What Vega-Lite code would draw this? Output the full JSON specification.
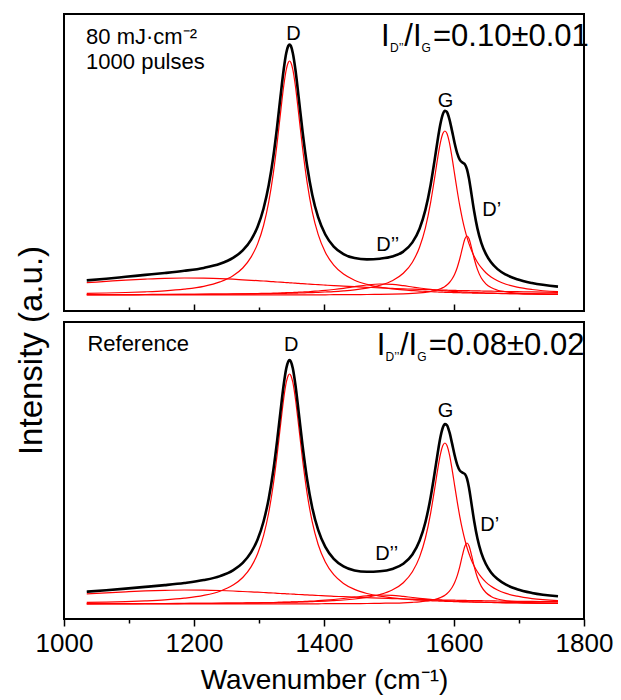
{
"$schema":"https://vega.github.io/schema/vega-lite/v6.json",
"padding":{"left":14,"top":13,"right":0,"bottom":0},
"spacing":11,
"bounds":"flush",
"config":{"font":"Liberation Sans","view":{"stroke":"#000","strokeWidth":2},
"axis":{"grid":false,"labelColor":"#000","titleColor":"#000","tickColor":"#000","titleFontWeight":"normal","labelFont":"Liberation Sans","titleFont":"Liberation Sans"},
"text":{"font":"Liberation Sans","color":"#000"}},
"datasets":{
"s":[
{"p":"a","x":1035,"tot":30.6,"D":17.6,"G":16.3,"Dp":16.0,"Dpp":16.3,"B":28.3},
{"p":"a","x":1065,"tot":32.3,"D":18.0,"G":16.4,"Dp":16.0,"Dpp":16.3,"B":29.6},
{"p":"a","x":1095,"tot":34.2,"D":18.5,"G":16.4,"Dp":16.0,"Dpp":16.4,"B":30.9},
{"p":"a","x":1125,"tot":36.1,"D":19.2,"G":16.5,"Dp":16.1,"Dpp":16.5,"B":31.9},
{"p":"a","x":1155,"tot":38.0,"D":20.2,"G":16.6,"Dp":16.1,"Dpp":16.5,"B":32.7},
{"p":"a","x":1185,"tot":40.2,"D":21.9,"G":16.6,"Dp":16.1,"Dpp":16.6,"B":33.0},
{"p":"a","x":1215,"tot":43.1,"D":24.7,"G":16.7,"Dp":16.1,"Dpp":16.8,"B":32.8},
{"p":"a","x":1240,"tot":47.2,"D":29.1,"G":16.9,"Dp":16.1,"Dpp":16.9,"B":32.4},
{"p":"a","x":1260,"tot":53.1,"D":35.2,"G":17.0,"Dp":16.1,"Dpp":17.1,"B":31.8},
{"p":"a","x":1275,"tot":60.6,"D":43.0,"G":17.1,"Dp":16.1,"Dpp":17.2,"B":31.2},
{"p":"a","x":1288,"tot":71.4,"D":54.1,"G":17.2,"Dp":16.1,"Dpp":17.3,"B":30.7},
{"p":"a","x":1298,"tot":84.5,"D":67.4,"G":17.2,"Dp":16.1,"Dpp":17.5,"B":30.3},
{"p":"a","x":1307,"tot":102.5,"D":85.5,"G":17.3,"Dp":16.1,"Dpp":17.6,"B":30.0},
{"p":"a","x":1315,"tot":125.9,"D":109.1,"G":17.4,"Dp":16.1,"Dpp":17.7,"B":29.6},
{"p":"a","x":1322,"tot":154.3,"D":137.6,"G":17.5,"Dp":16.1,"Dpp":17.8,"B":29.3},
{"p":"a","x":1328,"tot":185.2,"D":168.5,"G":17.5,"Dp":16.1,"Dpp":17.9,"B":29.0},
{"p":"a","x":1333,"tot":214.0,"D":197.4,"G":17.6,"Dp":16.1,"Dpp":18.0,"B":28.8},
{"p":"a","x":1338,"tot":241.5,"D":225.0,"G":17.7,"Dp":16.2,"Dpp":18.2,"B":28.6},
{"p":"a","x":1342,"tot":258.2,"D":241.7,"G":17.7,"Dp":16.2,"Dpp":18.3,"B":28.4},
{"p":"a","x":1345,"tot":265.1,"D":248.6,"G":17.8,"Dp":16.2,"Dpp":18.3,"B":28.3},
{"p":"a","x":1347,"tot":266.5,"D":250.0,"G":17.8,"Dp":16.2,"Dpp":18.4,"B":28.2},
{"p":"a","x":1349,"tot":265.1,"D":248.6,"G":17.8,"Dp":16.2,"Dpp":18.4,"B":28.1},
{"p":"a","x":1352,"tot":258.1,"D":241.7,"G":17.9,"Dp":16.2,"Dpp":18.5,"B":28.0},
{"p":"a","x":1356,"tot":241.5,"D":225.0,"G":17.9,"Dp":16.2,"Dpp":18.6,"B":27.8},
{"p":"a","x":1361,"tot":213.9,"D":197.4,"G":18.0,"Dp":16.2,"Dpp":18.8,"B":27.6},
{"p":"a","x":1367,"tot":179.6,"D":163.0,"G":18.1,"Dp":16.2,"Dpp":19.0,"B":27.3},
{"p":"a","x":1374,"tot":145.3,"D":128.6,"G":18.3,"Dp":16.2,"Dpp":19.2,"B":27.0},
{"p":"a","x":1382,"tot":116.1,"D":99.2,"G":18.4,"Dp":16.2,"Dpp":19.6,"B":26.7},
{"p":"a","x":1391,"tot":93.8,"D":76.6,"G":18.7,"Dp":16.2,"Dpp":20.0,"B":26.3},
{"p":"a","x":1402,"tot":76.5,"D":58.7,"G":19.0,"Dp":16.2,"Dpp":20.6,"B":25.9},
{"p":"a","x":1415,"tot":64.4,"D":45.9,"G":19.4,"Dp":16.3,"Dpp":21.5,"B":25.4},
{"p":"a","x":1430,"tot":56.9,"D":36.9,"G":20.1,"Dp":16.3,"Dpp":22.7,"B":24.9},
{"p":"a","x":1447,"tot":52.9,"D":30.8,"G":21.1,"Dp":16.4,"Dpp":24.3,"B":24.3},
{"p":"a","x":1466,"tot":51.6,"D":26.7,"G":22.8,"Dp":16.5,"Dpp":26.0,"B":23.7},
{"p":"a","x":1486,"tot":52.3,"D":23.9,"G":25.7,"Dp":16.6,"Dpp":27.0,"B":23.1},
{"p":"a","x":1505,"tot":54.4,"D":22.2,"G":30.3,"Dp":16.9,"Dpp":26.6,"B":22.6},
{"p":"a","x":1522,"tot":59.4,"D":21.1,"G":37.7,"Dp":17.2,"Dpp":25.3,"B":22.2},
{"p":"a","x":1536,"tot":68.6,"D":20.4,"G":48.8,"Dp":17.6,"Dpp":24.0,"B":21.8},
{"p":"a","x":1547,"tot":82.3,"D":19.9,"G":63.8,"Dp":18.1,"Dpp":23.0,"B":21.6},
{"p":"a","x":1556,"tot":101.1,"D":19.6,"G":83.2,"Dp":18.7,"Dpp":22.2,"B":21.4},
{"p":"a","x":1564,"tot":126.0,"D":19.3,"G":108.4,"Dp":19.5,"Dpp":21.6,"B":21.3},
{"p":"a","x":1570,"tot":150.1,"D":19.1,"G":132.3,"Dp":20.3,"Dpp":21.2,"B":21.1},
{"p":"a","x":1575,"tot":171.5,"D":19.0,"G":153.4,"Dp":21.2,"Dpp":20.8,"B":21.0},
{"p":"a","x":1579,"tot":186.7,"D":18.9,"G":168.1,"Dp":22.2,"Dpp":20.6,"B":21.0},
{"p":"a","x":1583,"tot":197.1,"D":18.8,"G":177.7,"Dp":23.4,"Dpp":20.3,"B":20.9},
{"p":"a","x":1586,"tot":200.3,"D":18.7,"G":180.0,"Dp":24.6,"Dpp":20.2,"B":20.8},
{"p":"a","x":1589,"tot":199.1,"D":18.7,"G":177.7,"Dp":26.0,"Dpp":20.0,"B":20.8},
{"p":"a","x":1593,"tot":191.7,"D":18.6,"G":168.1,"Dp":28.5,"Dpp":19.8,"B":20.7},
{"p":"a","x":1597,"tot":180.1,"D":18.5,"G":153.4,"Dp":32.0,"Dpp":19.6,"B":20.7},
{"p":"a","x":1601,"tot":167.8,"D":18.4,"G":136.6,"Dp":36.8,"Dpp":19.5,"B":20.6},
{"p":"a","x":1605,"tot":157.6,"D":18.4,"G":120.0,"Dp":43.5,"Dpp":19.3,"B":20.5},
{"p":"a","x":1609,"tot":151.2,"D":18.3,"G":104.8,"Dp":52.5,"Dpp":19.1,"B":20.5},
{"p":"a","x":1613,"tot":148.5,"D":18.2,"G":91.7,"Dp":63.2,"Dpp":19.0,"B":20.4},
{"p":"a","x":1617,"tot":146.4,"D":18.2,"G":80.6,"Dp":72.4,"Dpp":18.8,"B":20.3},
{"p":"a","x":1620,"tot":141.7,"D":18.1,"G":73.6,"Dp":75.0,"Dpp":18.8,"B":20.3},
{"p":"a","x":1623,"tot":132.8,"D":18.1,"G":67.4,"Dp":72.4,"Dpp":18.7,"B":20.3},
{"p":"a","x":1627,"tot":116.4,"D":18.0,"G":60.5,"Dp":63.2,"Dpp":18.5,"B":20.2},
{"p":"a","x":1631,"tot":99.7,"D":17.9,"G":54.7,"Dp":52.5,"Dpp":18.4,"B":20.1},
{"p":"a","x":1636,"tot":82.6,"D":17.9,"G":48.8,"Dp":41.6,"Dpp":18.3,"B":20.1},
{"p":"a","x":1642,"tot":68.2,"D":17.8,"G":43.3,"Dp":33.0,"Dpp":18.2,"B":20.0},
{"p":"a","x":1649,"tot":57.1,"D":17.7,"G":38.3,"Dp":27.2,"Dpp":18.0,"B":19.9},
{"p":"a","x":1657,"tot":48.8,"D":17.6,"G":34.1,"Dp":23.4,"Dpp":17.9,"B":19.8},
{"p":"a","x":1667,"tot":41.9,"D":17.5,"G":30.3,"Dp":20.8,"Dpp":17.7,"B":19.7},
{"p":"a","x":1680,"tot":36.3,"D":17.4,"G":26.8,"Dp":19.1,"Dpp":17.5,"B":19.5},
{"p":"a","x":1697,"tot":31.7,"D":17.3,"G":23.9,"Dp":17.9,"Dpp":17.3,"B":19.3},
{"p":"a","x":1720,"tot":27.9,"D":17.1,"G":21.5,"Dp":17.1,"Dpp":17.1,"B":19.1},
{"p":"a","x":1760,"tot":24.4,"D":16.9,"G":19.3,"Dp":16.6,"Dpp":16.8,"B":18.7},
{"p":"b","x":1035,"tot":27.3,"D":16.6,"G":15.3,"Dp":15.0,"Dpp":15.2,"B":25.1},
{"p":"b","x":1065,"tot":28.8,"D":16.9,"G":15.4,"Dp":15.0,"Dpp":15.3,"B":26.2},
{"p":"b","x":1095,"tot":30.4,"D":17.4,"G":15.4,"Dp":15.0,"Dpp":15.3,"B":27.2},
{"p":"b","x":1125,"tot":32.1,"D":18.1,"G":15.5,"Dp":15.0,"Dpp":15.4,"B":28.1},
{"p":"b","x":1155,"tot":33.9,"D":19.1,"G":15.5,"Dp":15.1,"Dpp":15.4,"B":28.7},
{"p":"b","x":1185,"tot":36.0,"D":20.8,"G":15.6,"Dp":15.1,"Dpp":15.5,"B":29.0},
{"p":"b","x":1215,"tot":38.9,"D":23.6,"G":15.7,"Dp":15.1,"Dpp":15.6,"B":28.9},
{"p":"b","x":1240,"tot":42.9,"D":27.8,"G":15.8,"Dp":15.1,"Dpp":15.7,"B":28.5},
{"p":"b","x":1260,"tot":48.7,"D":33.9,"G":15.9,"Dp":15.1,"Dpp":15.9,"B":28.0},
{"p":"b","x":1275,"tot":56.2,"D":41.5,"G":16.0,"Dp":15.1,"Dpp":16.0,"B":27.5},
{"p":"b","x":1288,"tot":66.9,"D":52.4,"G":16.1,"Dp":15.1,"Dpp":16.1,"B":27.1},
{"p":"b","x":1298,"tot":79.8,"D":65.5,"G":16.2,"Dp":15.1,"Dpp":16.2,"B":26.8},
{"p":"b","x":1307,"tot":97.5,"D":83.3,"G":16.3,"Dp":15.1,"Dpp":16.3,"B":26.5},
{"p":"b","x":1315,"tot":120.6,"D":106.5,"G":16.4,"Dp":15.1,"Dpp":16.4,"B":26.2},
{"p":"b","x":1322,"tot":148.5,"D":134.5,"G":16.4,"Dp":15.1,"Dpp":16.5,"B":26.0},
{"p":"b","x":1328,"tot":178.9,"D":164.9,"G":16.5,"Dp":15.1,"Dpp":16.6,"B":25.7},
{"p":"b","x":1333,"tot":207.2,"D":193.3,"G":16.6,"Dp":15.1,"Dpp":16.7,"B":25.5},
{"p":"b","x":1338,"tot":234.3,"D":220.4,"G":16.6,"Dp":15.2,"Dpp":16.8,"B":25.4},
{"p":"b","x":1342,"tot":250.7,"D":236.8,"G":16.7,"Dp":15.2,"Dpp":16.8,"B":25.2},
{"p":"b","x":1345,"tot":257.5,"D":243.6,"G":16.7,"Dp":15.2,"Dpp":16.9,"B":25.1},
{"p":"b","x":1347,"tot":258.9,"D":245.0,"G":16.7,"Dp":15.2,"Dpp":16.9,"B":25.0},
{"p":"b","x":1349,"tot":257.5,"D":243.6,"G":16.8,"Dp":15.2,"Dpp":17.0,"B":25.0},
{"p":"b","x":1352,"tot":250.7,"D":236.8,"G":16.8,"Dp":15.2,"Dpp":17.1,"B":24.9},
{"p":"b","x":1356,"tot":234.3,"D":220.4,"G":16.9,"Dp":15.2,"Dpp":17.1,"B":24.7},
{"p":"b","x":1361,"tot":207.2,"D":193.3,"G":17.0,"Dp":15.2,"Dpp":17.3,"B":24.5},
{"p":"b","x":1367,"tot":173.5,"D":159.5,"G":17.1,"Dp":15.2,"Dpp":17.4,"B":24.3},
{"p":"b","x":1374,"tot":139.8,"D":125.7,"G":17.2,"Dp":15.2,"Dpp":17.7,"B":24.1},
{"p":"b","x":1382,"tot":111.1,"D":96.8,"G":17.4,"Dp":15.2,"Dpp":17.9,"B":23.8},
{"p":"b","x":1391,"tot":89.1,"D":74.5,"G":17.6,"Dp":15.2,"Dpp":18.3,"B":23.5},
{"p":"b","x":1402,"tot":72.1,"D":57.0,"G":17.9,"Dp":15.3,"Dpp":18.8,"B":23.1},
{"p":"b","x":1415,"tot":60.2,"D":44.3,"G":18.4,"Dp":15.3,"Dpp":19.5,"B":22.7},
{"p":"b","x":1430,"tot":52.7,"D":35.6,"G":19.0,"Dp":15.3,"Dpp":20.5,"B":22.3},
{"p":"b","x":1447,"tot":48.6,"D":29.6,"G":20.0,"Dp":15.4,"Dpp":21.8,"B":21.8},
{"p":"b","x":1466,"tot":47.2,"D":25.5,"G":21.7,"Dp":15.5,"Dpp":23.2,"B":21.3},
{"p":"b","x":1486,"tot":47.7,"D":22.8,"G":24.5,"Dp":15.7,"Dpp":24.0,"B":20.8},
{"p":"b","x":1505,"tot":50.0,"D":21.1,"G":29.0,"Dp":15.9,"Dpp":23.7,"B":20.4},
{"p":"b","x":1522,"tot":55.2,"D":20.0,"G":36.3,"Dp":16.2,"Dpp":22.6,"B":20.1},
{"p":"b","x":1536,"tot":64.5,"D":19.3,"G":47.2,"Dp":16.7,"Dpp":21.5,"B":19.8},
{"p":"b","x":1547,"tot":78.2,"D":18.8,"G":61.9,"Dp":17.2,"Dpp":20.7,"B":19.6},
{"p":"b","x":1556,"tot":96.8,"D":18.5,"G":81.0,"Dp":17.8,"Dpp":20.1,"B":19.5},
{"p":"b","x":1564,"tot":121.5,"D":18.3,"G":105.7,"Dp":18.6,"Dpp":19.6,"B":19.3},
{"p":"b","x":1570,"tot":145.2,"D":18.1,"G":129.2,"Dp":19.4,"Dpp":19.2,"B":19.2},
{"p":"b","x":1575,"tot":166.3,"D":18.0,"G":149.9,"Dp":20.4,"Dpp":18.9,"B":19.2},
{"p":"b","x":1579,"tot":181.4,"D":17.9,"G":164.3,"Dp":21.4,"Dpp":18.7,"B":19.1},
{"p":"b","x":1583,"tot":191.7,"D":17.8,"G":173.7,"Dp":22.6,"Dpp":18.5,"B":19.0},
{"p":"b","x":1586,"tot":194.9,"D":17.7,"G":176.0,"Dp":23.8,"Dpp":18.4,"B":19.0},
{"p":"b","x":1589,"tot":193.9,"D":17.6,"G":173.7,"Dp":25.3,"Dpp":18.3,"B":18.9},
{"p":"b","x":1593,"tot":186.8,"D":17.5,"G":164.3,"Dp":27.9,"Dpp":18.1,"B":18.9},
{"p":"b","x":1597,"tot":175.6,"D":17.5,"G":149.9,"Dp":31.5,"Dpp":18.0,"B":18.8},
{"p":"b","x":1601,"tot":163.8,"D":17.4,"G":133.4,"Dp":36.5,"Dpp":17.8,"B":18.8},
{"p":"b","x":1605,"tot":154.2,"D":17.3,"G":117.1,"Dp":43.4,"Dpp":17.7,"B":18.7},
{"p":"b","x":1609,"tot":148.4,"D":17.2,"G":102.2,"Dp":52.7,"Dpp":17.6,"B":18.7},
{"p":"b","x":1613,"tot":146.4,"D":17.2,"G":89.3,"Dp":63.8,"Dpp":17.4,"B":18.6},
{"p":"b","x":1617,"tot":144.8,"D":17.1,"G":78.5,"Dp":73.3,"Dpp":17.3,"B":18.6},
{"p":"b","x":1620,"tot":140.4,"D":17.1,"G":71.5,"Dp":76.0,"Dpp":17.3,"B":18.5},
{"p":"b","x":1623,"tot":131.5,"D":17.0,"G":65.5,"Dp":73.3,"Dpp":17.2,"B":18.5},
{"p":"b","x":1627,"tot":114.9,"D":17.0,"G":58.6,"Dp":63.8,"Dpp":17.1,"B":18.5},
{"p":"b","x":1631,"tot":98.0,"D":16.9,"G":53.0,"Dp":52.7,"Dpp":17.0,"B":18.4},
{"p":"b","x":1636,"tot":80.7,"D":16.8,"G":47.2,"Dp":41.5,"Dpp":16.9,"B":18.3},
{"p":"b","x":1642,"tot":66.1,"D":16.8,"G":41.8,"Dp":32.6,"Dpp":16.8,"B":18.3},
{"p":"b","x":1649,"tot":55.0,"D":16.7,"G":36.9,"Dp":26.5,"Dpp":16.6,"B":18.2},
{"p":"b","x":1657,"tot":46.6,"D":16.6,"G":32.8,"Dp":22.6,"Dpp":16.5,"B":18.1},
{"p":"b","x":1667,"tot":39.9,"D":16.5,"G":29.0,"Dp":20.0,"Dpp":16.4,"B":18.0},
{"p":"b","x":1680,"tot":34.3,"D":16.4,"G":25.6,"Dp":18.2,"Dpp":16.2,"B":17.9},
{"p":"b","x":1697,"tot":29.8,"D":16.3,"G":22.8,"Dp":17.0,"Dpp":16.0,"B":17.7},
{"p":"b","x":1720,"tot":26.1,"D":16.1,"G":20.4,"Dp":16.2,"Dpp":15.9,"B":17.6},
{"p":"b","x":1760,"tot":22.7,"D":15.9,"G":18.3,"Dp":15.6,"Dpp":15.6,"B":17.3}
],
"t":[
{"p":"a","k":"note","x":1034,"y":266.7,"t":"80 mJ·cm⁻²"},
{"p":"a","k":"note","x":1034,"y":241.7,"t":"1000 pulses"},
{"p":"a","k":"peak","x":1353,"y":270.7,"t":"D"},
{"p":"a","k":"peak","x":1587,"y":204,"t":"G"},
{"p":"a","k":"peak","x":1658,"y":95,"t":"D’"},
{"p":"a","k":"peak","x":1498,"y":60,"t":"D’’"},
{"p":"a","k":"ratio","x":1487.7,"y":265,"t":"I"},
{"p":"a","k":"sub","x":1501.5,"y":265,"t":"D’’"},
{"p":"a","k":"ratio","x":1523.5,"y":265,"t":"/I"},
{"p":"a","k":"sub","x":1550,"y":265,"t":"G"},
{"p":"a","k":"ratio","x":1567.7,"y":265,"t":"=0.10±0.01"},
{"p":"b","k":"note","x":1036,"y":268,"t":"Reference"},
{"p":"b","k":"peak","x":1349.5,"y":267.7,"t":"D"},
{"p":"b","k":"peak","x":1587,"y":202,"t":"G"},
{"p":"b","k":"peak","x":1655,"y":88,"t":"D’"},
{"p":"b","k":"peak","x":1496.4,"y":58.7,"t":"D’’"},
{"p":"b","k":"ratio","x":1481,"y":264.3,"t":"I"},
{"p":"b","k":"sub","x":1494.8,"y":264.3,"t":"D’’"},
{"p":"b","k":"ratio","x":1516.8,"y":264.3,"t":"/I"},
{"p":"b","k":"sub","x":1543.3,"y":264.3,"t":"G"},
{"p":"b","k":"ratio","x":1561,"y":264.3,"t":"=0.08±0.02"}
]},
"vconcat":[
{"width":520,"height":297,
"encoding":{"x":{"field":"x","type":"quantitative","scale":{"domain":[1000,1800],"nice":false},
"axis":{"orient":"bottom","title":null,"labels":false,"domain":false,"values":[1100,1200,1300,1400,1500,1600,1700],"tickWidth":1.5,
"tickSize":{"condition":{"test":"datum.value % 200 === 0","value":-7},"value":-4}}}},
"layer":[
{"data":{"name":"s"},"transform":[{"filter":"datum.p==='a'"},{"fold":["B","Dpp","D","G","Dp"],"as":["c","v"]}],
"mark":{"type":"line","color":"#ff0000","strokeWidth":1.2,"interpolate":"monotone"},
"encoding":{"y":{"field":"v","type":"quantitative","scale":{"domain":[0,297],"nice":false},
"axis":{"title":"Intensity (a.u.)","ticks":false,"labels":false,"domain":false,"titleFontSize":33,"titlePadding":16,"titleY":336}},
"detail":{"field":"c"}}},
{"data":{"name":"s"},"transform":[{"filter":"datum.p==='a'"}],
"mark":{"type":"line","color":"#000","strokeWidth":2.6,"interpolate":"monotone"},
"encoding":{"y":{"field":"tot","type":"quantitative","title":"Intensity (a.u.)"}}},
{"data":{"name":"t"},"transform":[{"filter":"datum.p==='a' && datum.k==='note'"}],
"mark":{"type":"text","align":"left","baseline":"alphabetic","fontSize":22},
"encoding":{"y":{"field":"y","type":"quantitative","title":"Intensity (a.u.)"},"text":{"field":"t"}}},
{"data":{"name":"t"},"transform":[{"filter":"datum.p==='a' && datum.k==='peak'"}],
"mark":{"type":"text","align":"center","baseline":"alphabetic","fontSize":20},
"encoding":{"y":{"field":"y","type":"quantitative","title":"Intensity (a.u.)"},"text":{"field":"t"}}},
{"data":{"name":"t"},"transform":[{"filter":"datum.p==='a' && datum.k==='ratio'"}],
"mark":{"type":"text","align":"left","baseline":"alphabetic","fontSize":31},
"encoding":{"y":{"field":"y","type":"quantitative","title":"Intensity (a.u.)"},"text":{"field":"t"}}},
{"data":{"name":"t"},"transform":[{"filter":"datum.p==='a' && datum.k==='sub'"}],
"mark":{"type":"text","align":"left","baseline":"alphabetic","fontSize":12,"dy":6},
"encoding":{"y":{"field":"y","type":"quantitative","title":"Intensity (a.u.)"},"text":{"field":"t"}}}
]},
{"width":520,"height":297,
"encoding":{"x":{"field":"x","type":"quantitative","scale":{"domain":[1000,1800],"nice":false},
"axis":{"orient":"bottom","title":"Wavenumber (cm⁻¹)","titleFontSize":28,"titlePadding":10,"domain":false,
"values":[1000,1100,1200,1300,1400,1500,1600,1700,1800],"tickWidth":1.5,
"tickSize":{"condition":{"test":"datum.value % 200 === 0","value":7},"value":4},
"labelExpr":"datum.value % 200 === 0 ? datum.label : ''","labelFontSize":26,"labelPadding":4,"labelFlush":false,"labelOverlap":false,"format":"d"}}},
"layer":[
{"data":{"name":"s"},"transform":[{"filter":"datum.p==='b'"},{"fold":["B","Dpp","D","G","Dp"],"as":["c","v"]}],
"mark":{"type":"line","color":"#ff0000","strokeWidth":1.2,"interpolate":"monotone"},
"encoding":{"y":{"field":"v","type":"quantitative","scale":{"domain":[0,297],"nice":false},"axis":null},
"detail":{"field":"c"}}},
{"data":{"name":"s"},"transform":[{"filter":"datum.p==='b'"}],
"mark":{"type":"line","color":"#000","strokeWidth":2.6,"interpolate":"monotone"},
"encoding":{"y":{"field":"tot","type":"quantitative","axis":null}}},
{"data":{"name":"t"},"transform":[{"filter":"datum.p==='b' && datum.k==='note'"}],
"mark":{"type":"text","align":"left","baseline":"alphabetic","fontSize":22},
"encoding":{"y":{"field":"y","type":"quantitative","axis":null},"text":{"field":"t"}}},
{"data":{"name":"t"},"transform":[{"filter":"datum.p==='b' && datum.k==='peak'"}],
"mark":{"type":"text","align":"center","baseline":"alphabetic","fontSize":20},
"encoding":{"y":{"field":"y","type":"quantitative","axis":null},"text":{"field":"t"}}},
{"data":{"name":"t"},"transform":[{"filter":"datum.p==='b' && datum.k==='ratio'"}],
"mark":{"type":"text","align":"left","baseline":"alphabetic","fontSize":31},
"encoding":{"y":{"field":"y","type":"quantitative","axis":null},"text":{"field":"t"}}},
{"data":{"name":"t"},"transform":[{"filter":"datum.p==='b' && datum.k==='sub'"}],
"mark":{"type":"text","align":"left","baseline":"alphabetic","fontSize":12,"dy":6},
"encoding":{"y":{"field":"y","type":"quantitative","axis":null},"text":{"field":"t"}}}
]}
]
}
